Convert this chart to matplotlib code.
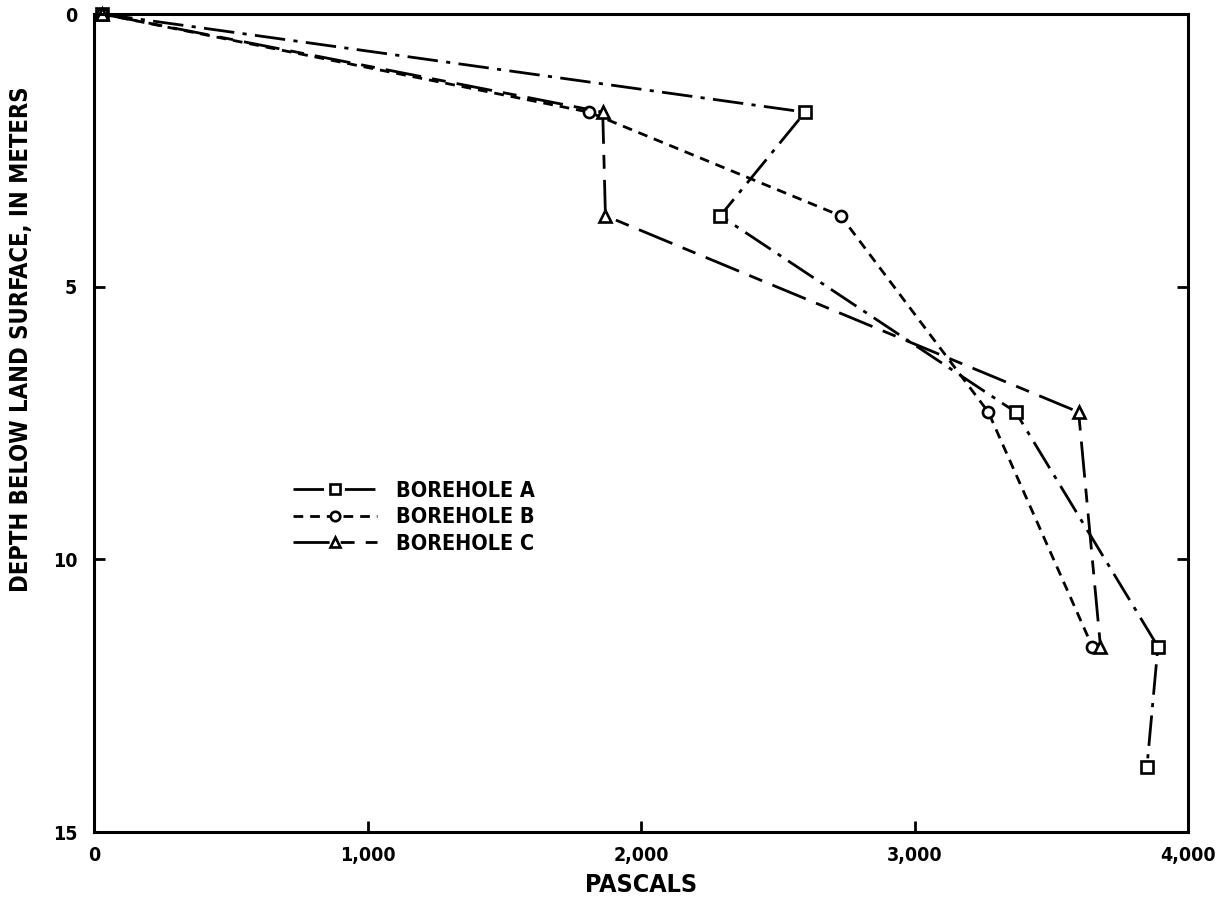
import matplotlib
matplotlib.use("Agg")
import matplotlib.pyplot as plt
from matplotlib.ticker import FuncFormatter

# Data
depth_A = [0, 1.8, 3.7, 7.3, 11.6, 13.8]
pascal_A = [30, 2600, 2290, 3370, 3890, 3850]
depth_B = [0, 1.8, 3.7, 7.3, 11.6]
pascal_B = [30, 1810, 2730, 3270, 3650]
depth_C = [0, 1.8, 3.7, 7.3, 11.6]
pascal_C = [30, 1860, 1870, 3600, 3680]
labels = ["BOREHOLE A", "BOREHOLE B", "BOREHOLE C"]
x_ticks = [0, 1000, 2000, 3000, 4000]
y_ticks = [0, 5, 10, 15]

plt.rcParams['font.family'] = ['DejaVu Sans']
plt.rcParams['font.weight'] = 'bold'
plt.rcParams['font.stretch'] = 'condensed'

fig = plt.figure(figsize=(12.3, 9.05), dpi=100)
ax = fig.add_axes([94/1230, 1-832/905, (1188-94)/1230, (832-14)/905])

lw = 2.0
mk = dict(markersize=8, markerfacecolor='white', markeredgecolor='black',
          markeredgewidth=1.9, clip_on=False, color='black', linewidth=lw)
ax.plot(pascal_A, depth_A, marker='s', linestyle=(0, (11, 3, 1.5, 3)), label=labels[0], **mk)
ax.plot(pascal_B, depth_B, marker='o', linestyle=(0, (3.5, 2.5)), label=labels[1], **mk)
ax.plot(pascal_C, depth_C, marker='^', linestyle=(0, (13, 4, 5, 4)), label=labels[2], **mk)

ax.set_xlim(0, 4000)
ax.set_ylim(15, 0)
ax.set_xticks(x_ticks)
ax.set_yticks(y_ticks)
ax.xaxis.set_major_formatter(FuncFormatter(lambda v, p: f"{int(v):,}"))
ax.tick_params(direction='in', length=8, width=2, labelsize=14, pad=10,
               right=True, top=False)
ax.tick_params(axis='y', pad=12)
for s in ax.spines.values():
    s.set_linewidth(2.2)

ax.set_xlabel("PASCALS", fontsize=18, fontweight='bold', labelpad=6)
fig.text(21/1230, 1-339/905, "DEPTH BELOW LAND SURFACE, IN METERS",
         rotation=90, fontsize=17, fontweight='bold', ha='center', va='center')

leg = ax.legend(loc='center left', bbox_to_anchor=(0.182, 0.385), frameon=False,
                fontsize=15.5, handlelength=3.9, handletextpad=0.9, borderpad=0,
                borderaxespad=0, labelspacing=0.3, numpoints=1, markerscale=0.85)

fig.savefig("out.png", dpi=100)
